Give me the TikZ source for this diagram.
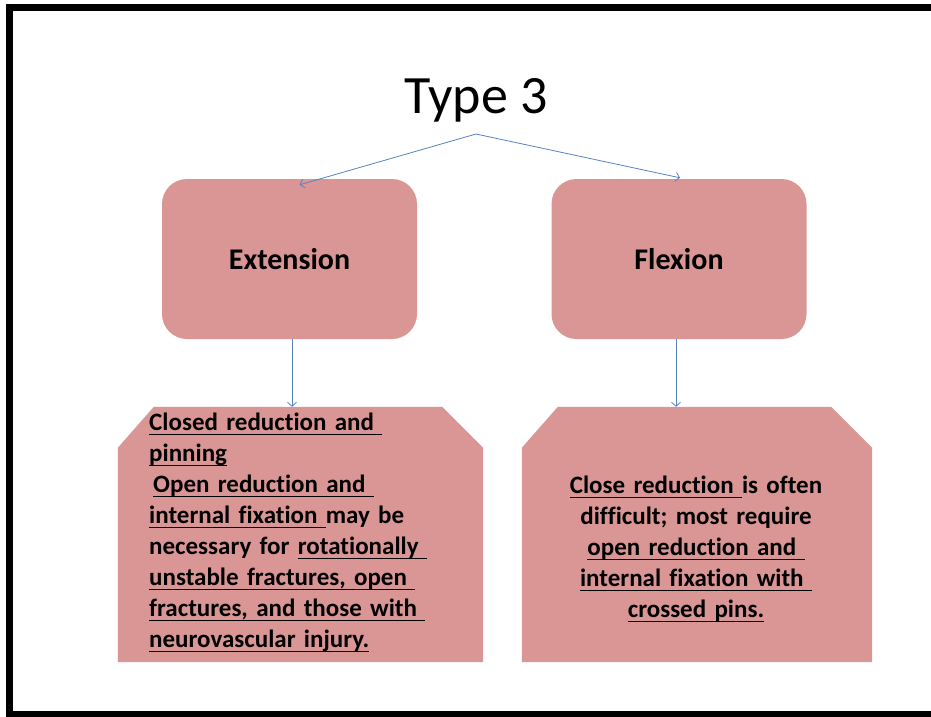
\documentclass[tikz,border=0pt]{standalone}
\usepackage{fontspec}
\setmainfont{Carlito}[Ligatures=NoCommon]
\usetikzlibrary{arrows.meta,calc}

\definecolor{boxred}{RGB}{217,150,148}
\definecolor{linkblue}{RGB}{86,130,192}

\newsavebox\undlbox
\newcommand\undl[1]{\leavevmode\sbox\undlbox{#1}\rlap{\rule[-4.5pt]{\wd\undlbox}{1.7pt}}\usebox\undlbox}

\begin{document}
\begin{tikzpicture}
    [x=1pt,y=-1pt,
     kind/.style={fill=boxred,rounded corners=25pt,minimum width=255pt,minimum height=160pt,
       font=\fontsize{30}{36}\selectfont\bfseries},
     care/.style={minimum width=#1,minimum height=255pt,inner sep=0},
     link/.style={draw=linkblue,line width=0.8pt,-{Straight Barb[length=4pt,width=9pt]}},
     note/.style={inner sep=0,font=\fontsize{25}{31}\selectfont\bfseries}]
  \clip (0,0) rectangle (931,716);
  \useasboundingbox (0,0) rectangle (931,716);
  % frame runs off the right edge
  \draw[line width=7pt] (931,7.5) -- (9.5,7.5) -- (9.5,714) -- (931,714);

  \node[font=\fontsize{54}{60}\selectfont] (type) at (476,100) {Type 3};
  \coordinate (fork) at (476,134);

  \node[kind] (ext) at (289.5,259) {Extension};
  \node[kind] (flex) at (679,259) {Flexion};

  \node[care=365pt] (extcare) at (300.5,534.5) {};
  \node[care=350pt] (flexcare) at (697,534.5) {};
  \foreach \b in {extcare,flexcare}
    \fill[boxred] (\b.south west) -- ($(\b.north west)+(0,41)$) -- ($(\b.north west)+(36,0)$)
      -- ($(\b.north east)+(-41,0)$) -- ($(\b.north east)+(0,41)$) -- (\b.south east) -- cycle;

  \draw[link] (fork) -- ([xshift=10pt,yshift=-6pt]ext.north);
  \draw[link] (fork) -- ([xshift=1pt,yshift=1pt]flex.north);
  \draw[link] ([xshift=2.5pt]ext.south) -- ([xshift=2.5pt]ext.south |- extcare.north);
  \draw[link] ([xshift=-3pt]flex.south) -- ([xshift=-3pt]flex.south |- flexcare.north);

  \node[note,anchor=north west,text width=340pt,align=left] (exttxt) at (149,413)
    {\undl{Closed reduction and\ }\\
     \undl{pinning}\\
     \hspace*{4pt}\undl{Open reduction and\ }\\
     \undl{internal fixation\ }may be\\
     necessary for \undl{rotationally\ }\\
     \undl{unstable fractures, open\ }\\
     \undl{fractures, and those with\ }\\
     \undl{neurovascular injury.}};
  \node[note,anchor=north,text width=330pt,align=center] (flextxt) at (696,476)
    {\undl{Close reduction\ }is often\\
     difficult; most require\\
     \undl{open reduction and\ }\\
     \undl{internal fixation with\ }\\
     \undl{crossed pins.}};
\end{tikzpicture}
\end{document}
